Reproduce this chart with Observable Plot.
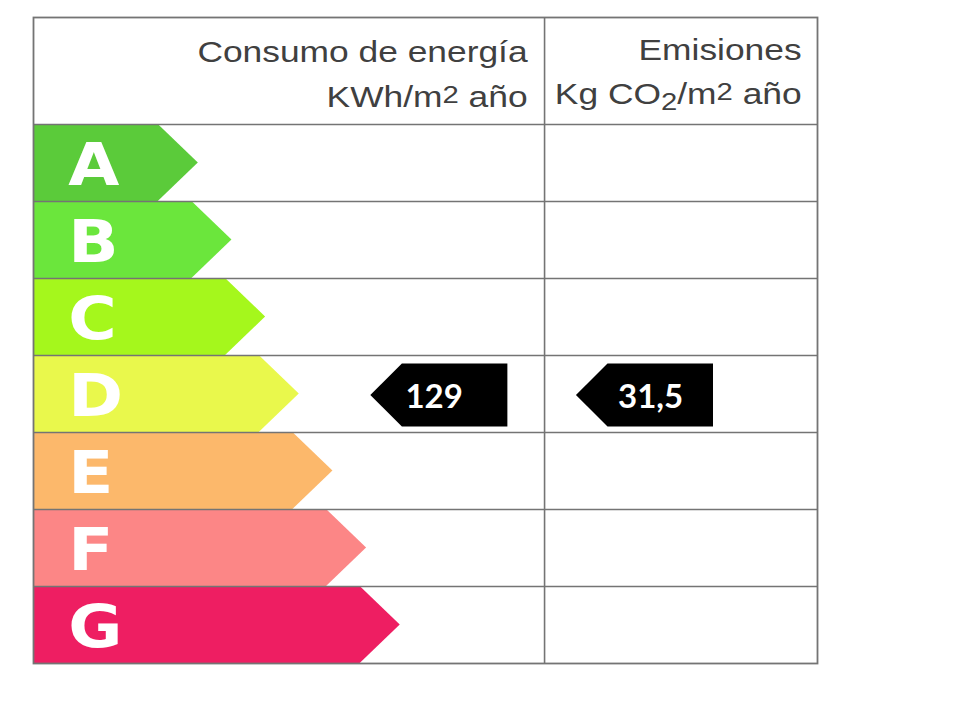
<!DOCTYPE html>
<html><head><meta charset="utf-8">
<script src="https://cdn.jsdelivr.net/npm/d3@7"></script>
<script src="https://cdn.jsdelivr.net/npm/@observablehq/plot@0.6"></script>
<style>html,body{margin:0;padding:0;background:#fff}</style>
</head><body><div id="chart"></div>
<script>
// ---- data ----
const grades = ["A", "B", "C", "D", "E", "F", "G"];
const gradeColors = ["#5bcb3a", "#6be63c", "#a5f71c", "#e9f84c", "#fcb86b", "#fc8686", "#ee1e62"];
const columnTitles = ["Consumo de energía", "Emisiones"];
const columnUnits = ["KWh/m2 año", "Kg CO2/m2 año"];
const ratedGrades = ["D", "D"];
const ratedValues = [129, 31.5];

// ---- layout (units: one row height) ----
const HEADER = 1.39, TABLE_W = 10.18, COL1 = 6.636;
const BODY0 = 1.62, BODY_STEP = 0.437, TIP = 0.52;
const PTR_TIP = [4.38, 7.05], PTR_LEN = 1.78, PTR_IN_T = 0.11, PTR_IN_B = 0.07, PTR_TEXT = [0.45, 0.54];
const TITLE_X = [6.416, 9.974], TITLE_Y = [0.584, 0.558], UNIT_Y = [1.156, 1.117];
const GRID = "#747474";

const rowTop = i => HEADER + i;

const arrowPts = grades.flatMap((g, i) => {
  const t = rowTop(i), body = BODY0 + BODY_STEP * i;
  return [
    {g, y: t, x1: 0, x2: body},
    {g, y: t + 0.5, x1: 0, x2: body + TIP},
    {g, y: t + 1, x1: 0, x2: body}
  ];
});

const pointers = ratedValues.map((v, c) => {
  const i = grades.indexOf(ratedGrades[c]);
  const t = rowTop(i) + PTR_IN_T, b = rowTop(i) + 1 - PTR_IN_B;
  return {c, v, t, b, m: (t + b) / 2, tip: PTR_TIP[c]};
});
const ptrPts = pointers.flatMap(p => {
  const notch = (p.b - p.t) / 2;
  return [
    {c: p.c, y: p.t, x1: p.tip + notch, x2: p.tip + PTR_LEN},
    {c: p.c, y: p.m, x1: p.tip, x2: p.tip + PTR_LEN},
    {c: p.c, y: p.b, x1: p.tip + notch, x2: p.tip + PTR_LEN}
  ];
});

const headerRows = columnTitles.flatMap((t, c) => [
  {text: t, x: TITLE_X[c], y: TITLE_Y[c]},
  {text: columnUnits[c], x: TITLE_X[c], y: UNIT_Y[c]}
]);

const fmt = v => String(v).replace(".", ",");

const svg = Plot.plot({
  width: 960,
  height: 720,
  marginLeft: 33, marginRight: 143, marginTop: 17, marginBottom: 57,
  x: {domain: [0, TABLE_W], axis: null},
  y: {domain: [0, HEADER + grades.length], axis: null, reverse: true},
  color: {type: "ordinal", domain: grades, range: gradeColors},
  marks: [
    Plot.areaX(arrowPts, {y: "y", x1: "x1", x2: "x2", z: "g", fill: "g", curve: "linear"}),
    Plot.areaX(ptrPts, {y: "y", x1: "x1", x2: "x2", z: "c", fill: "black", curve: "linear"}),
    Plot.ruleY(grades.map((g, i) => rowTop(i)), {x1: 0, x2: TABLE_W, stroke: GRID, strokeWidth: 1.6}),
    Plot.ruleX([COL1], {y1: 0, y2: HEADER + grades.length, stroke: GRID, strokeWidth: 1.6}),
    Plot.frame({stroke: GRID, strokeWidth: 1.8}),
    Plot.text(grades, {
      x: 0.45, y: (g, i) => rowTop(i) + 0.79, text: d => d,
      textAnchor: "start", lineAnchor: "bottom",
      fill: "white", fontSize: 59, fontWeight: "bold", fontFamily: "DejaVu Sans"
    }),
    Plot.text(pointers, {
      x: d => d.tip + PTR_TEXT[d.c], y: d => d.m + 0.03, text: d => fmt(d.v),
      textAnchor: "start", lineAnchor: "middle",
      fill: "white", fontSize: 33, fontWeight: "bold", fontFamily: "Lato"
    }),
    Plot.text(headerRows, {
      x: "x", y: "y", text: "text",
      textAnchor: "end", lineAnchor: "bottom",
      fill: "#404040", fontSize: 29, fontFamily: "Liberation Sans"
    })
  ]
});

function addScale(node, sx) {
  const el = d3.select(node);
  let tr = el.attr("transform");
  if (!tr) {
    const x = +el.attr("x") || 0, y = +el.attr("y") || 0;
    el.attr("x", null).attr("y", null);
    tr = `translate(${x},${y})`;
  }
  el.attr("transform", `${tr} scale(${sx},1)`);
}

function rich(node, s) {
  const el = d3.select(node);
  const segs = [];
  for (const p of s.split(/(CO2|m2)/)) {
    if (!p) continue;
    if (p === "CO2" || p === "m2") {
      segs.push({t: p.slice(0, -1), off: 0});
      segs.push({t: "2", off: p === "CO2" ? 6 : -4, small: true});
    } else segs.push({t: p, off: 0});
  }
  el.text(null);
  let cur = 0;
  for (const sg of segs) {
    const ts = el.append("tspan").text(sg.t);
    if (sg.off !== cur) ts.attr("dy", sg.off - cur);
    cur = sg.off;
    if (sg.small) ts.attr("font-size", 24);
  }
}

d3.select(svg).selectAll("text").each(function () {
  const s = this.textContent;
  if (columnUnits.includes(s)) rich(this, s);
  if (columnTitles.includes(s) || columnUnits.includes(s)) addScale(this, 1.22);
  else if (grades.includes(s)) addScale(this, 1.12);
});

document.getElementById("chart").appendChild(svg);
</script>
</body></html>
